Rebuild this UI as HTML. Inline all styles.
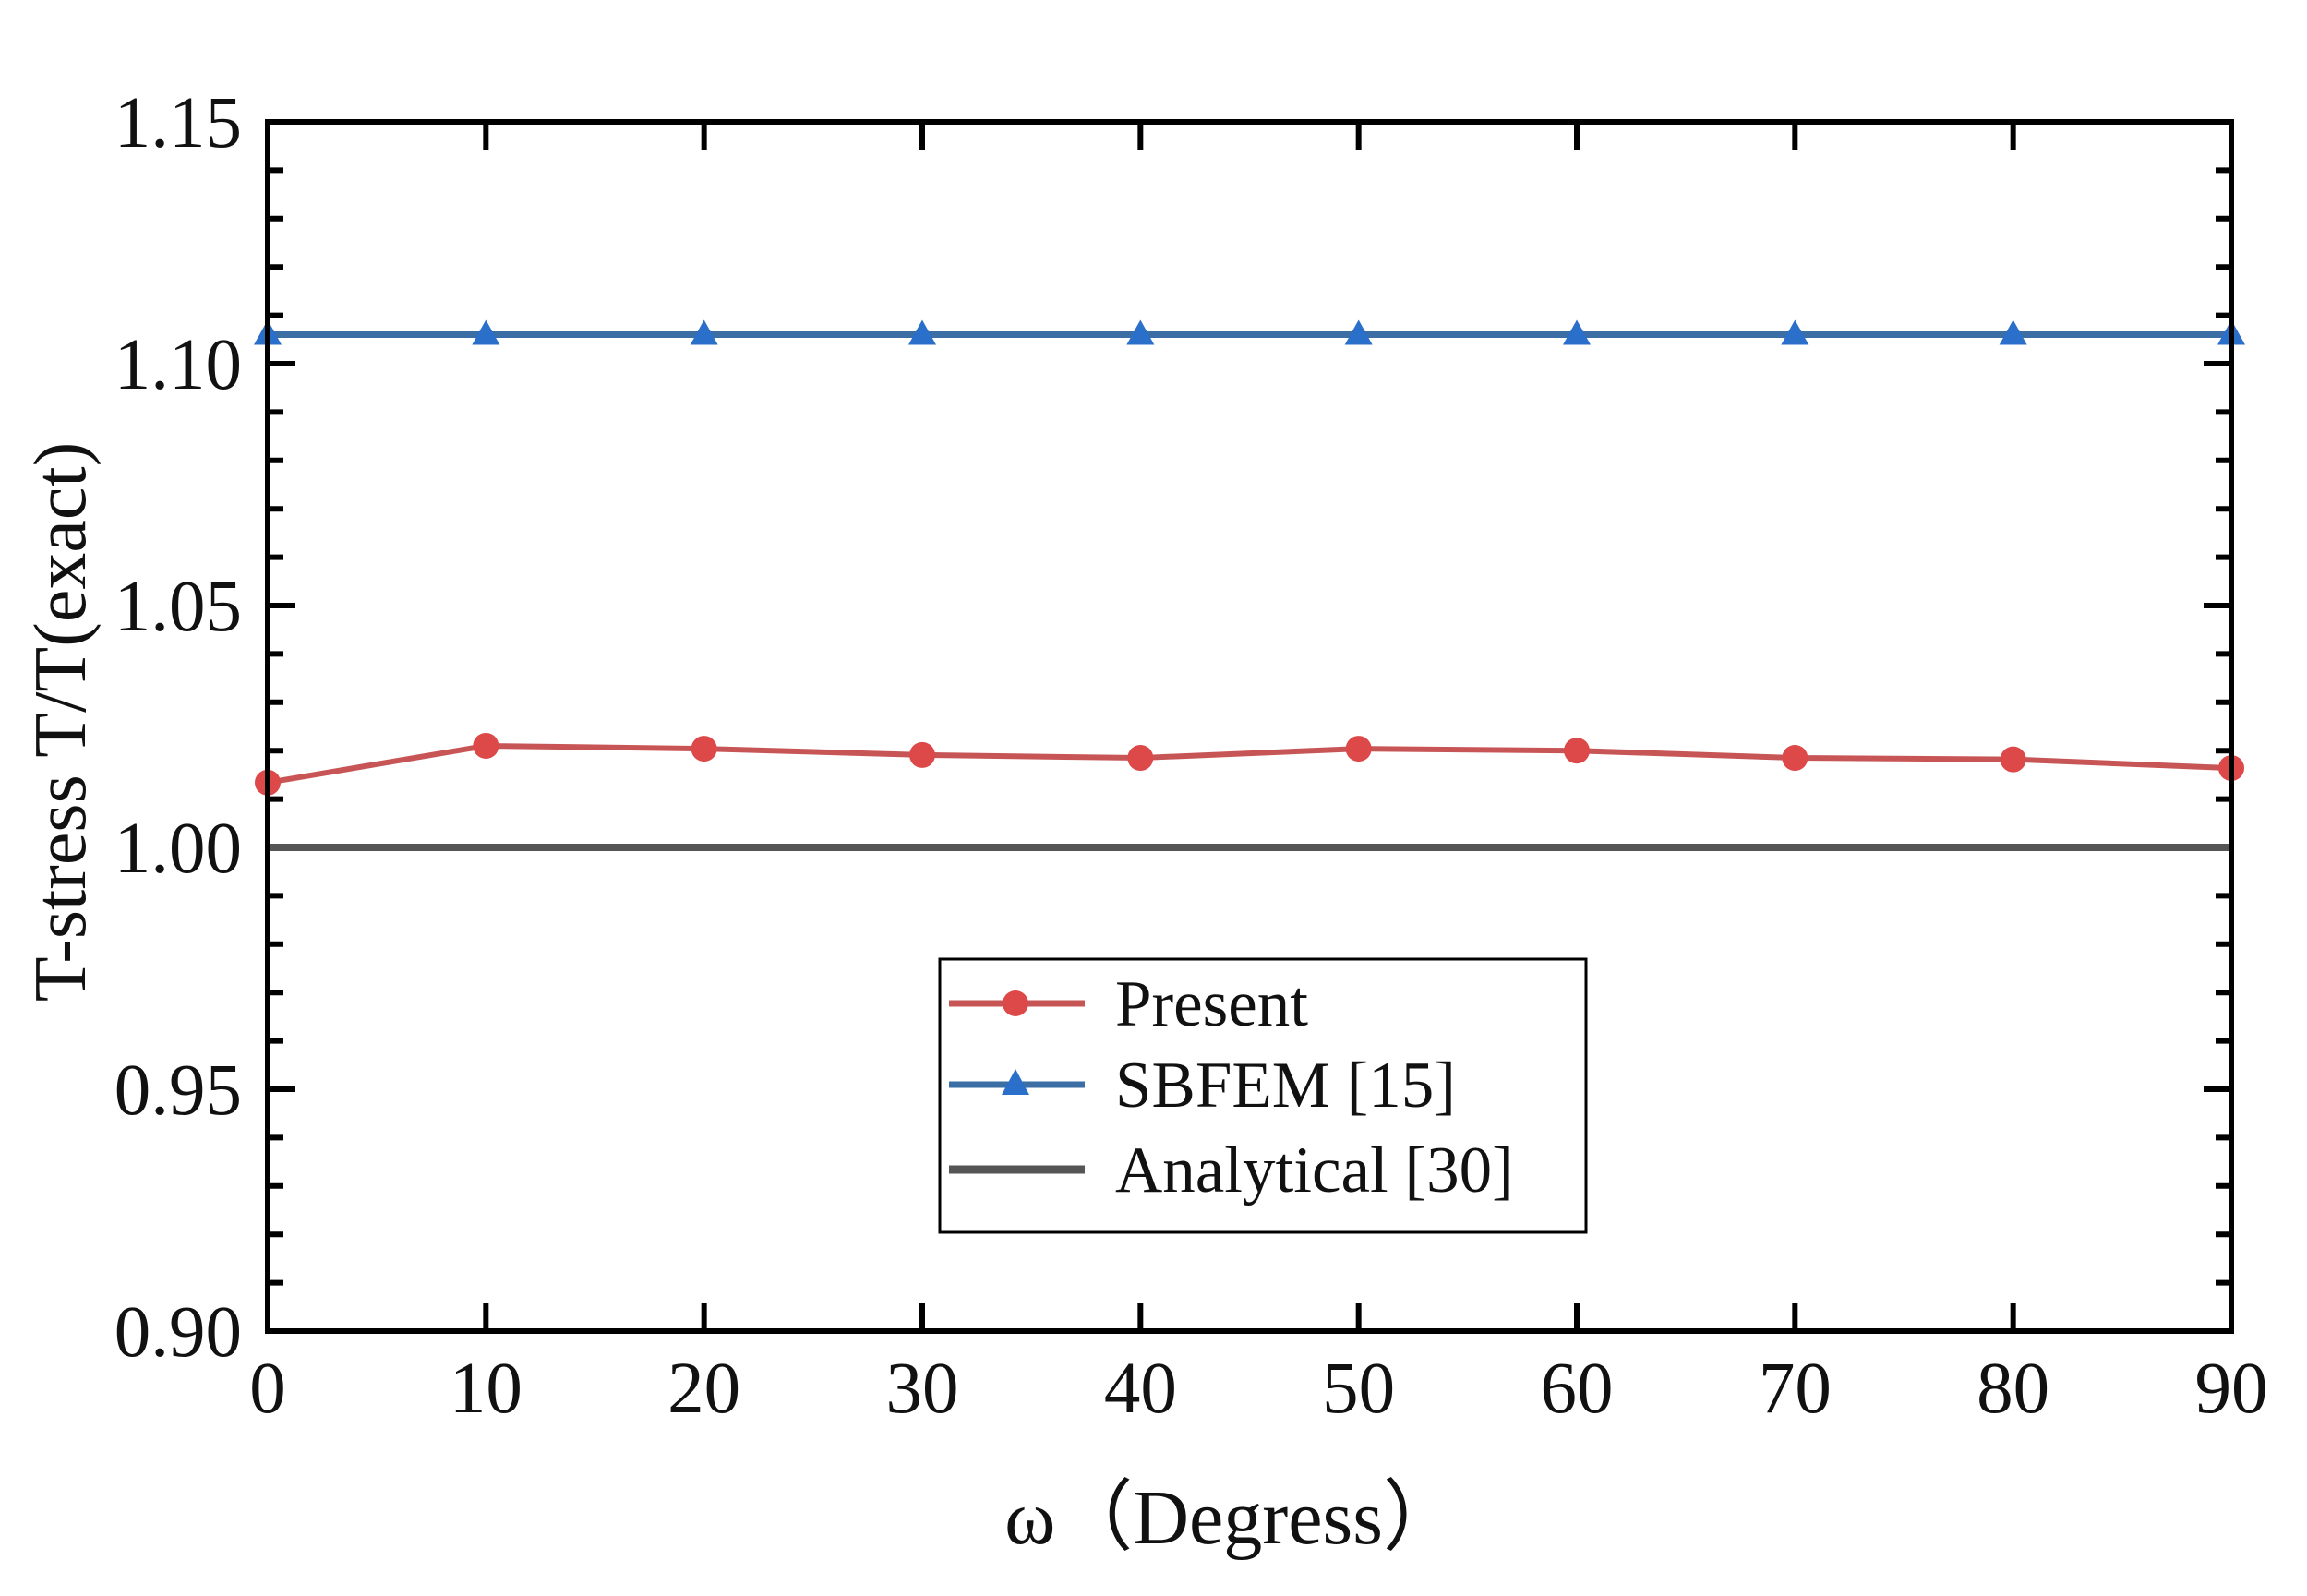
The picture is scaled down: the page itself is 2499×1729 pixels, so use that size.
<!DOCTYPE html>
<html><head><meta charset="utf-8"><style>
html,body{margin:0;padding:0;background:#fff;}
svg text{font-family:"Liberation Serif",serif;fill:#111;}
</style></head><body>
<svg id="chart" width="2499" height="1724" viewBox="0 0 2499 1724" xmlns="http://www.w3.org/2000/svg">
</svg>
<script>
const xCategories = [0,10,20,30,40,50,60,70,80,90];
const presentValues = [1.0134,1.0210,1.0204,1.0191,1.0185,1.0204,1.0200,1.0185,1.0182,1.0164];
const sbfemValues = [1.106,1.106,1.106,1.106,1.106,1.106,1.106,1.106,1.106,1.106];
const analyticalValues = [1.0,1.0,1.0,1.0,1.0,1.0,1.0,1.0,1.0,1.0];
const yTickLabels = ["0.90","0.95","1.00","1.05","1.10","1.15"];
const xTickLabels = ["0","10","20","30","40","50","60","70","80","90"];

const L=290,R=2417,T=132,B=1442;
const xMin=0,xMax=90,yMin=0.90,yMax=1.15;
const sx=v=>L+(v-xMin)/(xMax-xMin)*(R-L);
const sy=v=>B-(v-yMin)/(yMax-yMin)*(B-T);
const svg=document.getElementById('chart');
const NS='http://www.w3.org/2000/svg';
function mk(tag,attrs,parent){const e=document.createElementNS(NS,tag);for(const k in attrs)e.setAttribute(k,attrs[k]);(parent||svg).appendChild(e);return e;}

yTickLabels.forEach((t,i)=>{
  const v=parseFloat(t),y=sy(v);
  const lab=mk('text',{x:262,y:y+27,'text-anchor':'end','font-size':79});
  lab.textContent=t;
  
  
  mk('line',{x1:L,x2:L+30,y1:y,y2:y,stroke:'#000','stroke-width':6});
  mk('line',{x1:R,x2:R-30,y1:y,y2:y,stroke:'#000','stroke-width':6});
  if(i<yTickLabels.length-1){
    for(let k=1;k<5;k++){const ym=sy(v+k*0.01);
      mk('line',{x1:L,x2:L+17,y1:ym,y2:ym,stroke:'#000','stroke-width':6});
      mk('line',{x1:R,x2:R-17,y1:ym,y2:ym,stroke:'#000','stroke-width':6});}
  }
});
xTickLabels.forEach(t=>{
  const x=sx(parseFloat(t));
  const lab=mk('text',{x:x,y:1530,'text-anchor':'middle','font-size':79});
  lab.textContent=t;
  
  
  mk('line',{x1:x,x2:x,y1:B,y2:B-30,stroke:'#000','stroke-width':6});
  mk('line',{x1:x,x2:x,y1:T,y2:T+30,stroke:'#000','stroke-width':6});
});

const ap=analyticalValues.map((v,i)=>sx(xCategories[i])+','+sy(v)).join(' ');
const aLine=mk('polyline',{points:ap,fill:'none',stroke:'#555','stroke-width':8});



const bp=sbfemValues.map((v,i)=>sx(xCategories[i])+','+sy(v)).join(' ');
const bLine=mk('polyline',{points:bp,fill:'none',stroke:'#3a6ea5','stroke-width':7});


sbfemValues.forEach((v,i)=>{
  const x=sx(xCategories[i]),y=sy(v);
  const m=mk('polygon',{points:`${x},${y-16} ${x-15},${y+11} ${x+15},${y+11}`,fill:'#2a6fc9'});
  
  
});

const pp=presentValues.map((v,i)=>sx(xCategories[i])+','+sy(v)).join(' ');
const pLine=mk('polyline',{points:pp,fill:'none',stroke:'#c85555','stroke-width':6});


presentValues.forEach((v,i)=>{
  const m=mk('circle',{cx:sx(xCategories[i]),cy:sy(v),r:14,fill:'#dd4848'});
  
  
});

const fr=mk('rect',{x:L,y:T,width:R-L,height:B-T,fill:'none',stroke:'#000','stroke-width':6});



const xt=mk('text',{x:1335,y:1672,'text-anchor':'middle','font-size':84});
xt.textContent='ω（Degress）';


const yt=mk('text',{x:0,y:0,'text-anchor':'middle','font-size':80,transform:'translate(92,782) rotate(-90)'});
yt.textContent='T-stress T/T(exact)';



const lg=mk('g',{});


mk('rect',{x:1018,y:1039,width:700,height:296,fill:'#fff',stroke:'#000','stroke-width':3},lg);
const entries=[['Present','#c85555',1087,'c'],['SBFEM [15]','#3a6ea5',1175,'t'],['Analytical [30]','#555',1267,'n']];
entries.forEach(e=>{
  const g=mk('g',{},lg);
  
  
  mk('line',{x1:1028,x2:1175,y1:e[2],y2:e[2],stroke:e[1],'stroke-width':e[3]=='n'?9:7},g);
  if(e[3]=='c')mk('circle',{cx:1100,cy:e[2],r:14,fill:'#dd4848'},g);
  if(e[3]=='t')mk('polygon',{points:`1100,${e[2]-17} 1085,${e[2]+11} 1115,${e[2]+11}`,fill:'#2a6fc9'},g);
  const t=mk('text',{x:1208,y:e[2]+24,'font-size':71},g);
  t.textContent=e[0];
});
</script>
</body></html>
